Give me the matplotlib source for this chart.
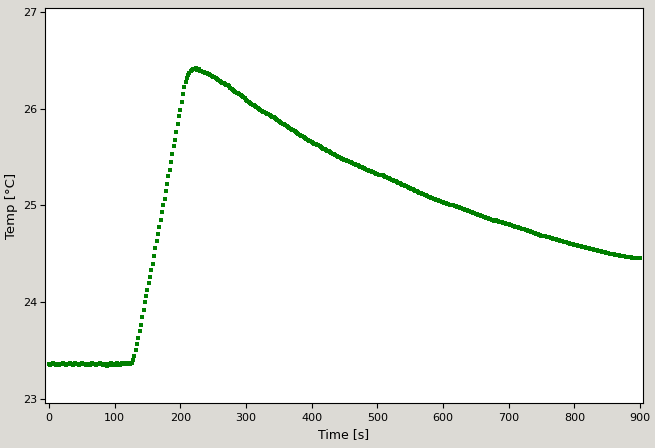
import numpy as np
import matplotlib
matplotlib.use("Agg")
import matplotlib.pyplot as plt

# sample grid: one reading every 2 s, 0..900 s
time_s = np.arange(0, 902, 2)

# temperature readings [°C], 10 per row (20 s per row)
temp_c = [
    23.36, 23.35, 23.36, 23.37, 23.36, 23.35, 23.36, 23.36, 23.35, 23.36,
    23.36, 23.37, 23.36, 23.35, 23.36, 23.36, 23.37, 23.36, 23.35, 23.36,
    23.37, 23.36, 23.36, 23.35, 23.36, 23.37, 23.36, 23.36, 23.35, 23.36,
    23.36, 23.35, 23.36, 23.37, 23.36, 23.36, 23.35, 23.36, 23.36, 23.37,
    23.36, 23.35, 23.36, 23.36, 23.34, 23.35, 23.36, 23.37, 23.35, 23.36,
    23.36, 23.35, 23.37, 23.36, 23.35, 23.36, 23.37, 23.36, 23.36, 23.37,
    23.36, 23.37, 23.36, 23.37, 23.40, 23.45, 23.51, 23.57, 23.63, 23.70,
    23.77, 23.85, 23.92, 24.00, 24.07, 24.13, 24.20, 24.26, 24.33, 24.40,
    24.48, 24.56, 24.63, 24.71, 24.78, 24.85, 24.93, 25.00, 25.07, 25.15,
    25.22, 25.30, 25.37, 25.45, 25.53, 25.61, 25.68, 25.76, 25.84, 25.92,
    25.99, 26.07, 26.15, 26.22, 26.28, 26.32, 26.35, 26.37, 26.39, 26.40,
    26.41, 26.41, 26.42, 26.40, 26.41, 26.39, 26.39, 26.38, 26.38, 26.37,
    26.37, 26.36, 26.36, 26.35, 26.34, 26.33, 26.33, 26.32, 26.31, 26.30,
    26.29, 26.28, 26.27, 26.26, 26.25, 26.24, 26.24, 26.23, 26.21, 26.20,
    26.19, 26.18, 26.17, 26.16, 26.16, 26.15, 26.14, 26.13, 26.12, 26.11,
    26.09, 26.08, 26.07, 26.06, 26.05, 26.04, 26.04, 26.03, 26.02, 26.01,
    26.00, 25.99, 25.98, 25.97, 25.97, 25.96, 25.95, 25.94, 25.93, 25.92,
    25.91, 25.91, 25.90, 25.89, 25.88, 25.87, 25.86, 25.85, 25.84, 25.84,
    25.83, 25.82, 25.81, 25.80, 25.79, 25.78, 25.78, 25.77, 25.76, 25.75,
    25.74, 25.73, 25.72, 25.72, 25.71, 25.70, 25.69, 25.68, 25.67, 25.67,
    25.66, 25.65, 25.64, 25.63, 25.62, 25.62, 25.61, 25.60, 25.59, 25.58,
    25.58, 25.57, 25.56, 25.56, 25.55, 25.54, 25.53, 25.53, 25.52, 25.51,
    25.50, 25.50, 25.49, 25.48, 25.48, 25.47, 25.47, 25.46, 25.46, 25.45,
    25.45, 25.44, 25.43, 25.43, 25.42, 25.42, 25.41, 25.40, 25.40, 25.39,
    25.39, 25.38, 25.37, 25.37, 25.36, 25.36, 25.35, 25.35, 25.34, 25.33,
    25.33, 25.32, 25.32, 25.31, 25.31, 25.30, 25.29, 25.29, 25.28, 25.28,
    25.27, 25.26, 25.26, 25.25, 25.25, 25.24, 25.23, 25.23, 25.22, 25.21,
    25.21, 25.20, 25.20, 25.19, 25.18, 25.18, 25.17, 25.17, 25.16, 25.15,
    25.15, 25.14, 25.13, 25.13, 25.12, 25.12, 25.11, 25.11, 25.10, 25.09,
    25.09, 25.08, 25.08, 25.07, 25.07, 25.06, 25.06, 25.05, 25.05, 25.04,
    25.04, 25.03, 25.03, 25.02, 25.02, 25.01, 25.01, 25.00, 25.00, 24.99,
    24.99, 24.98, 24.98, 24.97, 24.97, 24.96, 24.96, 24.95, 24.95, 24.94,
    24.94, 24.93, 24.93, 24.92, 24.92, 24.91, 24.91, 24.90, 24.90, 24.89,
    24.89, 24.88, 24.88, 24.87, 24.87, 24.86, 24.86, 24.85, 24.85, 24.84,
    24.85, 24.84, 24.84, 24.83, 24.83, 24.83, 24.82, 24.82, 24.81, 24.81,
    24.81, 24.80, 24.80, 24.79, 24.79, 24.78, 24.78, 24.78, 24.77, 24.77,
    24.76, 24.76, 24.76, 24.75, 24.75, 24.74, 24.74, 24.73, 24.73, 24.72,
    24.72, 24.71, 24.71, 24.70, 24.70, 24.69, 24.69, 24.68, 24.68, 24.67,
    24.67, 24.67, 24.66, 24.66, 24.65, 24.65, 24.65, 24.64, 24.64, 24.63,
    24.63, 24.63, 24.62, 24.62, 24.62, 24.61, 24.61, 24.60, 24.60, 24.60,
    24.59, 24.59, 24.59, 24.58, 24.58, 24.58, 24.57, 24.57, 24.57, 24.56,
    24.56, 24.56, 24.55, 24.55, 24.55, 24.54, 24.54, 24.54, 24.53, 24.53,
    24.53, 24.52, 24.52, 24.52, 24.51, 24.51, 24.51, 24.50, 24.50, 24.50,
    24.50, 24.49, 24.49, 24.49, 24.49, 24.48, 24.48, 24.48, 24.48, 24.47,
    24.47, 24.47, 24.47, 24.47, 24.46, 24.46, 24.46, 24.46, 24.46, 24.46,
    24.46,
]

x_ticks = [0, 100, 200, 300, 400, 500, 600, 700, 800, 900]
y_ticks = [23, 24, 25, 26, 27]

fig = plt.figure(figsize=(6.55, 4.48), dpi=100, facecolor="#dcdad5")
ax = fig.add_axes([0.0687, 0.1004, 0.9130, 0.8818])
ax.set_facecolor("white")

ax.plot(time_s, temp_c, linestyle="none", marker="s", markersize=3.2,
        markeredgewidth=0, color="#007f00")

ax.set_xlim(-6, 904.6)
ax.set_ylim(22.96, 27.04)
ax.set_xticks(x_ticks)
ax.set_yticks(y_ticks)
ax.tick_params(labelsize=8, length=3.5, pad=2, color="black")
ax.tick_params(axis="x", pad=3.5)
ax.set_xlabel("Time [s]", fontsize=9, labelpad=4)
ax.set_ylabel("Temp [°C]", fontsize=9.5, labelpad=4)

fig.savefig("out.png", dpi=100, facecolor=fig.get_facecolor())
